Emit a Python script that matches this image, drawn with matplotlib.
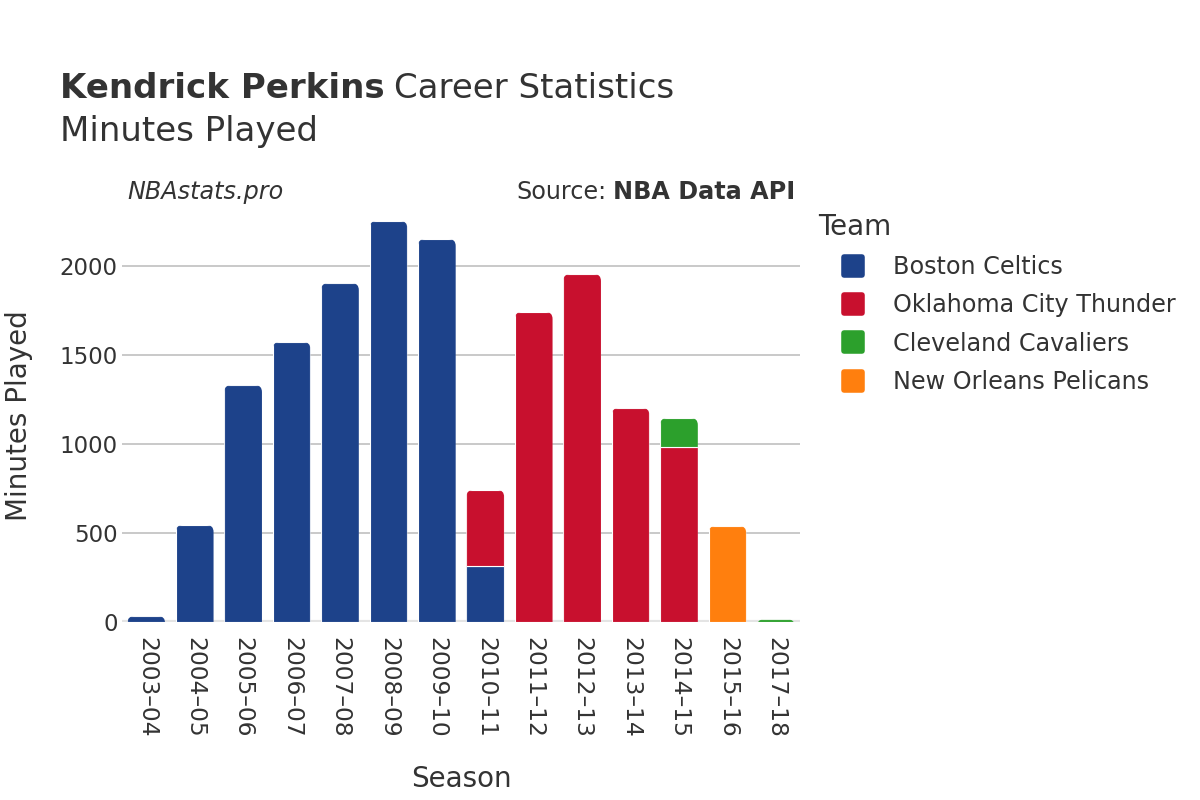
import matplotlib.pyplot as plt
from matplotlib.lines import Line2D
from matplotlib.markers import MarkerStyle
from matplotlib.patches import FancyBboxPatch
import numpy as np

seasons = ["2003–04", "2004–05", "2005–06", "2006–07", "2007–08", "2008–09", "2009–10",
           "2010–11", "2011–12", "2012–13", "2013–14", "2014–15", "2015–16", "2017–18"]
teams = ["Boston Celtics", "Oklahoma City Thunder", "Cleveland Cavaliers", "New Orleans Pelicans"]
colors = ["#1d428a", "#c8102e", "#2ca02c", "#ff7f0e"]

celtics = [33, 545, 1331, 1573, 1904, 2253, 2152, 315, 0, 0, 0, 0, 0, 0]
thunder = [0, 0, 0, 0, 0, 0, 0, 427, 1742, 1955, 1202, 983, 0, 0]
cavaliers = [0, 0, 0, 0, 0, 0, 0, 0, 0, 0, 0, 163, 0, 15]
pelicans = [0, 0, 0, 0, 0, 0, 0, 0, 0, 0, 0, 0, 539, 0]

text_col = "#333333"

fig = plt.figure(figsize=(12, 8), dpi=100)
ax = fig.add_axes([0.1017, 0.2225, 0.565, 0.515])

x = np.arange(len(seasons))
width = 0.78
ax.set_xlim(-0.5, len(seasons) - 0.5)
ax.set_ylim(0, 2315)

# rounded top corners: clip each column with a rounded box
p0 = ax.transData.transform((0, 0))
p1 = ax.transData.transform((1, 1))
px_x = p1[0] - p0[0]
px_y = p1[1] - p0[1]
r = 7 / px_x
aspect = px_x / px_y

totals = np.array(celtics) + np.array(thunder) + np.array(cavaliers) + np.array(pelicans)
clips = []
for i, tot in enumerate(totals):
    cp = FancyBboxPatch((x[i] - width / 2, -500), width, tot + 500,
                        boxstyle=f"round,pad=0,rounding_size={r}",
                        mutation_aspect=aspect, transform=ax.transData,
                        facecolor="none", edgecolor="none")
    clips.append(cp)

bottom = np.zeros(len(seasons))
for vals, col in zip([celtics, thunder, cavaliers, pelicans], colors):
    vals = np.array(vals, dtype=float)
    mask = vals > 0
    bars = ax.bar(x[mask], vals[mask], bottom=bottom[mask], width=width, color=col,
                  edgecolor="white", linewidth=0.8, zorder=3)
    for b, i in zip(bars, x[mask]):
        b.set_clip_path(clips[i])
    bottom += vals

ax.set_yticks([0, 500, 1000, 1500, 2000])
ax.grid(axis="y", color="#bbbbbb", linewidth=1.1, zorder=0)
ax.axhline(0, color="#e4e4e4", linewidth=3, zorder=2)
for s in ax.spines.values():
    s.set_visible(False)
ax.tick_params(axis="y", length=0, labelsize=16.5, colors=text_col, pad=3)
ax.tick_params(axis="x", length=0, labelsize=16.8, colors=text_col, pad=11)
ax.set_xticks(x)
ax.set_xticklabels(seasons, rotation=-90)
ax.set_xlabel("Season", fontsize=20, color=text_col, labelpad=19)
ax.set_ylabel("Minutes Played", fontsize=20, color=text_col, labelpad=19)

renderer = fig.canvas.get_renderer()
t1 = fig.text(0.05, 0.889, "Kendrick Perkins", fontsize=24.5, fontweight="bold",
              color=text_col, va="center")
bb = t1.get_window_extent(renderer)
fig.text((bb.x1 + 9) / 1200, 0.889, "Career Statistics", fontsize=24.5, color=text_col, va="center")
fig.text(0.05, 0.835, "Minutes Played", fontsize=24.5, color=text_col, va="center")
fig.text(0.106, 0.76, "NBAstats.pro", fontsize=17.2, style="italic", color=text_col, va="center")
t2 = fig.text(0.663, 0.76, "NBA Data API", fontsize=17.2, fontweight="bold", color=text_col,
              va="center", ha="right")
bb = t2.get_window_extent(renderer)
fig.text((bb.x0 - 7) / 1200, 0.76, "Source:", fontsize=17.2, color=text_col, va="center", ha="right")

fig.text(818 / 1200, 1 - 227 / 800, "Team", fontsize=20, color=text_col, va="center")
mk = MarkerStyle("s", joinstyle="round")
handles = [Line2D([], [], marker=mk, linestyle="none", markersize=13, markeredgewidth=4,
                  color=c) for c in colors]
leg = fig.legend(handles, teams, loc="upper left", bbox_to_anchor=(836 / 1200, 1 - 255 / 800),
                 frameon=False, fontsize=17.2, labelspacing=0.6, handlelength=1.4,
                 handletextpad=1.0, borderpad=0, borderaxespad=0)
for t in leg.get_texts():
    t.set_color(text_col)

fig.savefig("out.png", dpi=100)
